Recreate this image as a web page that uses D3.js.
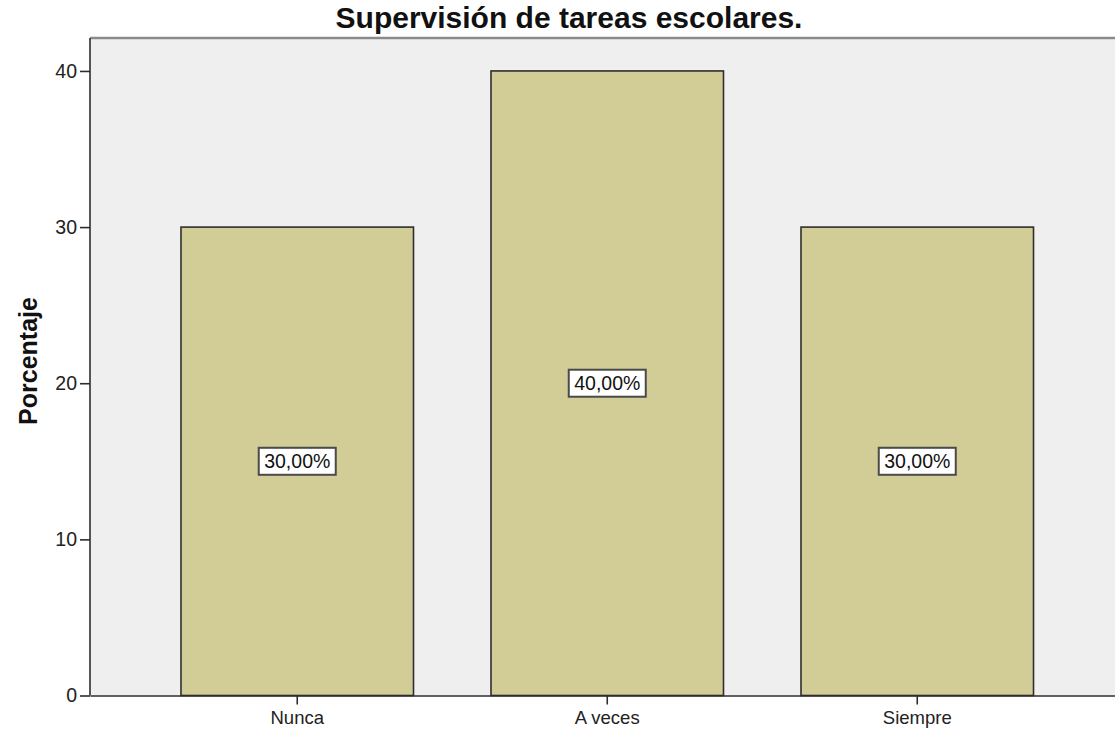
<!DOCTYPE html>
<html>
<head>
<meta charset="utf-8">
<script src="https://cdn.jsdelivr.net/npm/d3@7"></script>
<style>
  body { margin: 0; background: #fff; }
  svg { display: block; font-family: Arial, "Liberation Sans", sans-serif; }
</style>
</head>
<body>
<svg id="svg" width="1115" height="731"></svg>
<script>
// chart data
const categories = ["Nunca", "A veces", "Siempre"];
const percentages = [30, 40, 30];
const yTicks = [0, 10, 20, 30, 40];
const chartTitle = "Supervisión de tareas escolares.";
const yTitle = "Porcentaje";

const svg = d3.select("svg");

// plot area (runs past the right edge of the picture)
const plotLeft = 90, plotRight = 1124.5, plotTop = 38, plotBottom = 695.5;

const x = d3.scaleBand()
    .domain(categories)
    .range([plotLeft, plotRight])
    .paddingInner(0.25)
    .paddingOuter(0.2935);

const y = d3.scaleLinear()
    .domain([0, 42.11])
    .range([plotBottom, plotTop]);

// background
svg.append("rect")
    .attr("x", plotLeft).attr("y", plotTop)
    .attr("width", plotRight - plotLeft).attr("height", plotBottom - plotTop)
    .style("fill", "#efefef");

// top frame line
svg.append("line")
    .attr("x1", plotLeft).attr("x2", plotRight)
    .attr("y1", plotTop).attr("y2", plotTop)
    .style("stroke", "#8a8a8a")
    .style("stroke-width", 2.5);

// bars
svg.selectAll("rect.bar")
    .data(percentages)
    .enter().append("rect")
    .attr("class", "bar")
    .attr("x", (d, i) => x(categories[i]))
    .attr("y", d => y(d))
    .attr("width", x.bandwidth())
    .attr("height", d => y(0) - y(d))
    .style("fill", "#d2cd97")
    .style("stroke", "#2e2e2e")
    .style("stroke-width", 1.6);

// y axis
const yAxis = svg.append("g")
    .attr("transform", "translate(" + plotLeft + ",0)")
    .call(d3.axisLeft(y).tickValues(yTicks).tickSize(10).tickPadding(3).tickSizeOuter(0));
yAxis.select(".domain").style("stroke", "#2e2e2e").style("stroke-width", 1.6)
    .attr("d", "M0," + plotTop + "V" + plotBottom);
yAxis.selectAll(".tick line").style("stroke", "#2e2e2e").style("stroke-width", 1.6);
yAxis.selectAll(".tick text")
    .style("font-family", "Arial, 'Liberation Sans', sans-serif")
    .style("font-size", "19.5px")
    .style("fill", "#222");

// x axis
const xAxis = svg.append("g")
    .attr("transform", "translate(0," + plotBottom + ")")
    .call(d3.axisBottom(x).tickSize(9).tickPadding(6).tickSizeOuter(0));
xAxis.select(".domain").style("stroke", "#2e2e2e").style("stroke-width", 1.6);
xAxis.selectAll(".tick line").style("stroke", "#2e2e2e").style("stroke-width", 1.6);
xAxis.selectAll(".tick text")
    .style("font-family", "Arial, 'Liberation Sans', sans-serif")
    .style("font-size", "18.5px")
    .style("fill", "#222");

// value labels in white boxes
const labels = svg.selectAll("g.lbl")
    .data(percentages)
    .enter().append("g")
    .attr("class", "lbl")
    .attr("transform", (d, i) => "translate(" + (x(categories[i]) + x.bandwidth() / 2) + "," + y(d / 2) + ")");

labels.append("rect")
    .attr("x", -38.5).attr("y", -13.5)
    .attr("width", 77).attr("height", 27)
    .style("fill", "#fff")
    .style("stroke", "#4a4a4a")
    .style("stroke-width", 2);

labels.append("text")
    .attr("text-anchor", "middle")
    .attr("dy", "0.36em")
    .style("font-size", "19.5px")
    .style("fill", "#111")
    .text(d => d3.format(".2f")(d).replace(".", ",") + "%");

// title
svg.append("text")
    .attr("x", 569).attr("y", 28)
    .attr("text-anchor", "middle")
    .style("font-size", "30px")
    .style("font-weight", "bold")
    .style("fill", "#111")
    .text(chartTitle);

// y axis title
svg.append("text")
    .attr("transform", "translate(37," + 361 + ") rotate(-90)")
    .attr("text-anchor", "middle")
    .style("font-size", "25px")
    .style("font-weight", "bold")
    .style("fill", "#111")
    .text(yTitle);
</script>
</body>
</html>
